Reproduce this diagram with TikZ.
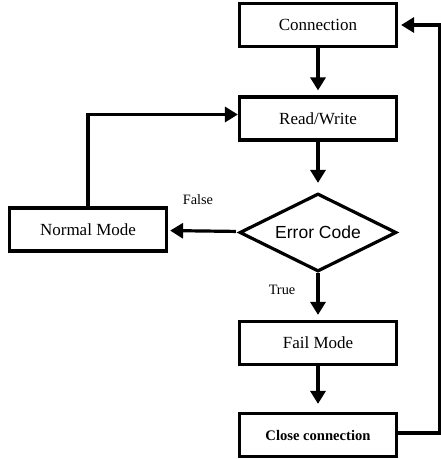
\documentclass[tikz,border=0pt]{standalone}
\usepackage{fontspec}
\setmainfont{Liberation Serif}
\newfontfamily\sansfont{Liberation Sans}
\usepackage{tikz}
\usetikzlibrary{arrows.meta, positioning, shapes.geometric}

\begin{document}
\begin{tikzpicture}[x=1pt, y=-1pt,
    block/.style={draw, line width=3.2pt, minimum width=157pt, minimum height=43pt, inner sep=0pt, font=\fontsize{17}{20}\selectfont},
    decision/.style={draw, diamond, line width=3.2pt, aspect=2, minimum width=157pt, minimum height=78pt, inner sep=0pt, font=\sansfont\fontsize{17.5}{20}\selectfont},
    flow/.style={line width=3.2pt, -{Triangle[length=13pt, width=15pt]}},
    tag/.style={font=\fontsize{14.3}{16}\selectfont}]
          \useasboundingbox (0,0) rectangle (441,459);
          \node[block] (conn) at (318,25) {Connection};
          \node[block] (rw) at (318,118.5) {Read/Write};
          \node[decision] (err) at (318,232.5) {Error Code};
          \node[block] (nm) at (88,229.5) {Normal Mode};
          \node[block] (fail) at (318,343) {Fail Mode};
          \node[block, font=\bfseries\fontsize{14.6}{17}\selectfont] (cl) at (318,435) {Close connection};
          \node[tag] (false) at (198,200) {False};
          \node[tag] (true) at (282,290) {True};
          \draw[flow, shorten >=5pt] (conn) -- (rw);
          \draw[flow, shorten >=9pt] (rw) -- (err);
          \draw[flow, shorten <=4pt, shorten >=2pt] (err) -- (nm);
          \draw[flow, shorten >=5pt] (err) -- (fail);
          \draw[flow, shorten >=8pt] (fail) -- (cl);
          \draw[flow] (nm.north) |- ([yshift=4pt]rw.west);
          % way back to the start
          \coordinate (back) at ([xshift=41pt]conn.east);
          \draw[flow, shorten >=3pt] ([yshift=2pt]cl.east) -| (back) -- (conn.east);
        \end{tikzpicture}
\end{document}
